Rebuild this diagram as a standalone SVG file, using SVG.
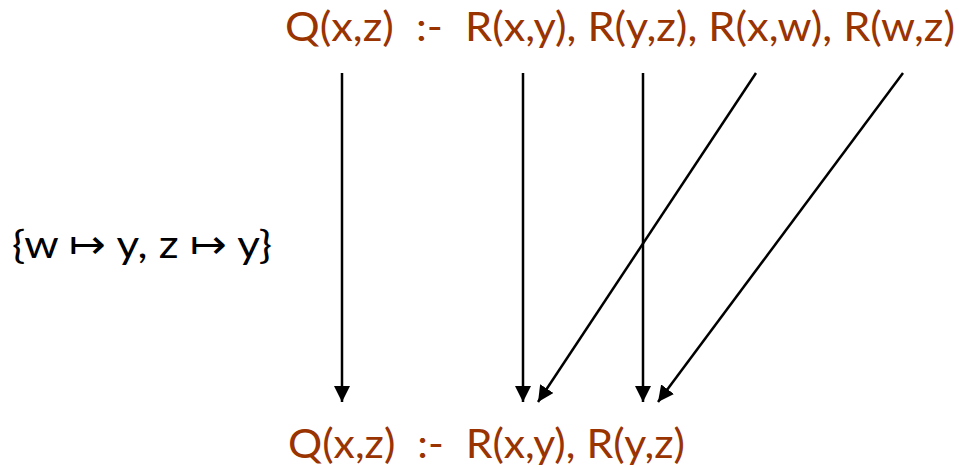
<svg xmlns="http://www.w3.org/2000/svg" width="959" height="467" viewBox="0 0 959 467">
<defs>
<style>
.q{font-family:Lato,"Open Sans","Liberation Sans",sans-serif;font-size:41px;fill:#993300}
.m{font-family:Lato,"Open Sans","Liberation Sans",sans-serif;font-size:39px;fill:#000}
.e{stroke:#000;stroke-width:2.5;fill:none;marker-end:url(#ah)}
</style>
<marker id="ah" viewBox="0 0 10 10" refX="10" refY="5" markerWidth="6.4" markerHeight="6.4" markerUnits="strokeWidth" orient="auto">
<path d="M0,0 L10,5 L0,10 z" fill="#000"/>
</marker>
</defs>
<rect width="959" height="467" fill="#fff"/>
<g id="top-rule">
<text class="q" x="285" y="41" textLength="670" lengthAdjust="spacingAndGlyphs" xml:space="preserve">Q(x,z)  :-  R(x,y), R(y,z), R(x,w), R(w,z)</text>
</g>
<g id="bottom-rule">
<text class="q" x="288" y="458" textLength="397" lengthAdjust="spacingAndGlyphs" xml:space="preserve">Q(x,z)  :-  R(x,y), R(y,z)</text>
</g>
<g id="mapping">
<text class="m" x="12" y="258" textLength="260" lengthAdjust="spacingAndGlyphs">{w ↦ y, z ↦ y}</text>
</g>
<g id="connectors">
<line class="e" x1="342" y1="73" x2="342" y2="402"/>
<line class="e" x1="523" y1="73" x2="523" y2="402"/>
<line class="e" x1="643" y1="73" x2="643" y2="402"/>
<line class="e" x1="756" y1="73" x2="538" y2="402"/>
<line class="e" x1="903" y1="73" x2="658" y2="402"/>
</g>
</svg>
